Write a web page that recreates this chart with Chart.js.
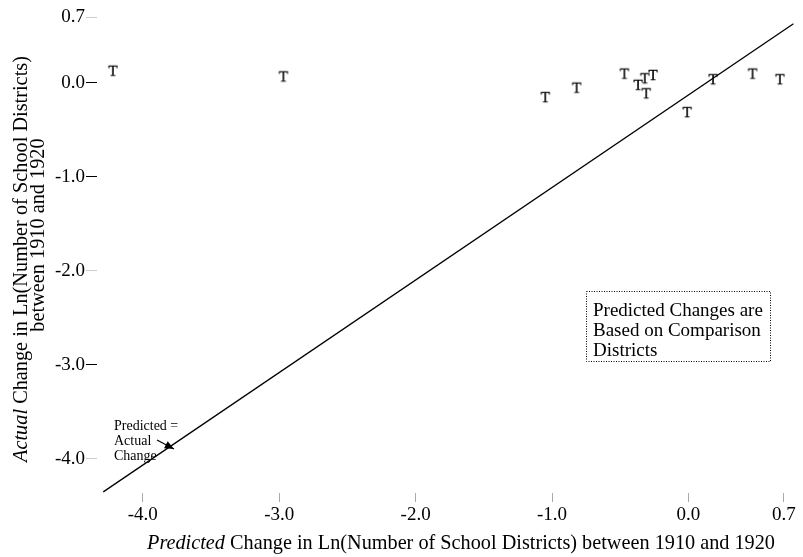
<!DOCTYPE html>
<html><head><meta charset="utf-8">
<script src="https://cdn.jsdelivr.net/npm/chart.js@4.4.1/dist/chart.umd.min.js"></script>
<style>html,body{margin:0;padding:0;background:#fff}#wrap{width:803px;height:557px;position:relative;background:#fff}</style>
</head><body><div id="wrap"><canvas id="c" width="803" height="557"></canvas></div>
<script>
// ---- data ----
const predicted = [-4.22, -2.97, -1.05, -0.82, -0.47, -0.37, -0.32, -0.26, -0.31, -0.01, 0.18, 0.47, 0.67];
const actual    = [ 0.13,  0.07, -0.15, -0.05,  0.10, -0.02,  0.05,  0.085, -0.11, -0.31, 0.04, 0.10, 0.04];
const lineX = [-4.29, 0.77];
const lineY = [-4.35, 0.63];
const xTicks = [-4.0, -3.0, -2.0, -1.0, 0.0, 0.7];
const yTicks = [0.7, 0.0, -1.0, -2.0, -3.0, -4.0];
const yStrongTicks = [0.0, -1.0, -3.0];
const xTitleItalic = 'Predicted';
const xTitleRest = ' Change in Ln(Number of School Districts) between 1910 and 1920';
const yTitleItalic = 'Actual';
const yTitleRest = ' Change in Ln(Number of School Districts)';
const yTitle2 = 'between 1910 and 1920';
const noteLines = ['Predicted Changes are', 'Based on Comparison', 'Districts'];
const lineLabel = ['Predicted =', 'Actual', 'Change'];
const markerText = 'T';

const SERIF = '"Liberation Serif", "DejaVu Serif", serif';

function makeMarker() {
  const c = document.createElement('canvas');
  c.width = 16; c.height = 16;
  const x = c.getContext('2d');
  x.fillStyle = '#000';
  x.strokeStyle = '#000';
  x.lineWidth = 0.35;
  x.font = '15px ' + SERIF;
  x.textAlign = 'center';
  x.textBaseline = 'alphabetic';
  x.fillText(markerText, 8, 13);
  x.strokeText(markerText, 8, 13);
  return c;
}

function drawMixed(ctx, parts, cx, cy) {
  let total = 0;
  parts.forEach(p => { ctx.font = p.font; p.w = ctx.measureText(p.text).width; total += p.w; });
  let x = cx - total / 2;
  ctx.textAlign = 'left';
  ctx.textBaseline = 'middle';
  parts.forEach(p => { ctx.font = p.font; ctx.fillText(p.text, x, cy); x += p.w; });
}
function fitSize(ctx, parts, target, base) {
  let total = 0;
  parts.forEach(p => { ctx.font = p.style + ' ' + base + 'px ' + SERIF; total += ctx.measureText(p.text).width; });
  return base * target / total;
}

const deco = {
  id: 'deco',
  afterDraw(chart) {
    const ctx = chart.ctx;
    ctx.save();
    ctx.fillStyle = '#000';
    ctx.strokeStyle = '#000';

    // X title
    const xp = [{text: xTitleItalic, style: 'italic'}, {text: xTitleRest, style: 'normal'}];
    const xs = fitSize(ctx, xp, 628, 19);
    xp.forEach(p => p.font = p.style + ' ' + xs + 'px ' + SERIF);
    drawMixed(ctx, xp, 461, 544);

    // Y title (two lines, rotated)
    const yp = [{text: yTitleItalic, style: 'italic'}, {text: yTitleRest, style: 'normal'}];
    const ys = fitSize(ctx, yp, 406, 19);
    yp.forEach(p => p.font = p.style + ' ' + ys + 'px ' + SERIF);
    ctx.save();
    ctx.translate(22, 259);
    ctx.rotate(-Math.PI / 2);
    drawMixed(ctx, yp, 0, 0);
    ctx.restore();
    ctx.save();
    ctx.translate(39, 235);
    ctx.rotate(-Math.PI / 2);
    drawMixed(ctx, [{text: yTitle2, font: 'normal ' + ys + 'px ' + SERIF}], 0, 0);
    ctx.restore();

    // Note box
    ctx.save();
    ctx.lineWidth = 1;
    ctx.setLineDash([1, 1.5]);
    ctx.strokeRect(586.5, 291.5, 184, 70);
    ctx.restore();
    ctx.font = '19px ' + SERIF;
    ctx.textAlign = 'left';
    ctx.textBaseline = 'middle';
    noteLines.forEach((t, i) => ctx.fillText(t, 593, 311 + i * 20));

    // Line label + arrow
    ctx.font = '14px ' + SERIF;
    lineLabel.forEach((t, i) => ctx.fillText(t, 114, 426 + i * 15.3));
    const ax0 = 157, ay0 = 440, ax1 = 174, ay1 = 449;
    ctx.lineWidth = 1.2;
    ctx.beginPath(); ctx.moveTo(ax0, ay0); ctx.lineTo(ax1, ay1); ctx.stroke();
    const ang = Math.atan2(ay1 - ay0, ax1 - ax0);
    ctx.beginPath();
    ctx.moveTo(ax1, ay1);
    ctx.lineTo(ax1 - 10 * Math.cos(ang - 0.4), ay1 - 10 * Math.sin(ang - 0.4));
    ctx.lineTo(ax1 - 10 * Math.cos(ang + 0.4), ay1 - 10 * Math.sin(ang + 0.4));
    ctx.closePath(); ctx.fill();

    ctx.restore();
  }
};

const bg = {
  id: 'bg',
  beforeDraw(chart) {
    const ctx = chart.ctx;
    ctx.save(); ctx.fillStyle = '#fff'; ctx.fillRect(0, 0, chart.width, chart.height); ctx.restore();
  }
};

const marker = makeMarker();
const points = predicted.map((v, i) => ({x: v, y: actual[i]}));
const linePts = lineX.map((v, i) => ({x: v, y: lineY[i]}));

new Chart(document.getElementById('c'), {
  type: 'scatter',
  data: {
    datasets: [
      {label: 'Districts', data: points, pointStyle: marker, pointRadius: 8, pointHoverRadius: 8, borderColor: '#000', backgroundColor: '#000'},
      {label: 'Predicted = Actual', data: linePts, showLine: true, borderColor: '#000', borderWidth: 1.3, pointRadius: 0, fill: false}
    ]
  },
  options: {
    responsive: false,
    animation: false,
    devicePixelRatio: 1,
    layout: {padding: {top: 15, right: 6, left: 0, bottom: 0}},
    plugins: {legend: {display: false}, tooltip: {enabled: false}},
    scales: {
      x: {
        type: 'linear', min: -4.336, max: 0.774,
        afterBuildTicks: s => { s.ticks = xTicks.map(v => ({value: v})); },
        afterFit: s => { s.height = 64; s.paddingLeft = 0; s.paddingRight = 0; },
        ticks: {callback: v => Number(v).toFixed(1), font: {family: SERIF, size: 19}, color: '#000', padding: 2, maxRotation: 0, autoSkip: false},
        grid: {drawOnChartArea: false, drawTicks: true, tickLength: 9, tickColor: '#aaa', tickWidth: 1},
        border: {display: false},
        title: {display: false}
      },
      y: {
        type: 'linear', min: -4.362, max: 0.723,
        afterBuildTicks: s => { s.ticks = yTicks.slice().sort((a, b) => a - b).map(v => ({value: v})); },
        afterFit: s => { s.width = 97; s.paddingTop = 0; s.paddingBottom = 0; },
        ticks: {callback: v => Number(v).toFixed(1), font: {family: SERIF, size: 19}, color: '#000', padding: 1, autoSkip: false},
        grid: {drawOnChartArea: false, drawTicks: true, tickLength: 11, tickWidth: 1,
          tickColor: c => (c.tick && yStrongTicks.includes(c.tick.value)) ? '#000' : '#ccc'},
        border: {display: false},
        title: {display: false}
      }
    }
  },
  plugins: [bg, deco]
});
</script>
</body></html>
